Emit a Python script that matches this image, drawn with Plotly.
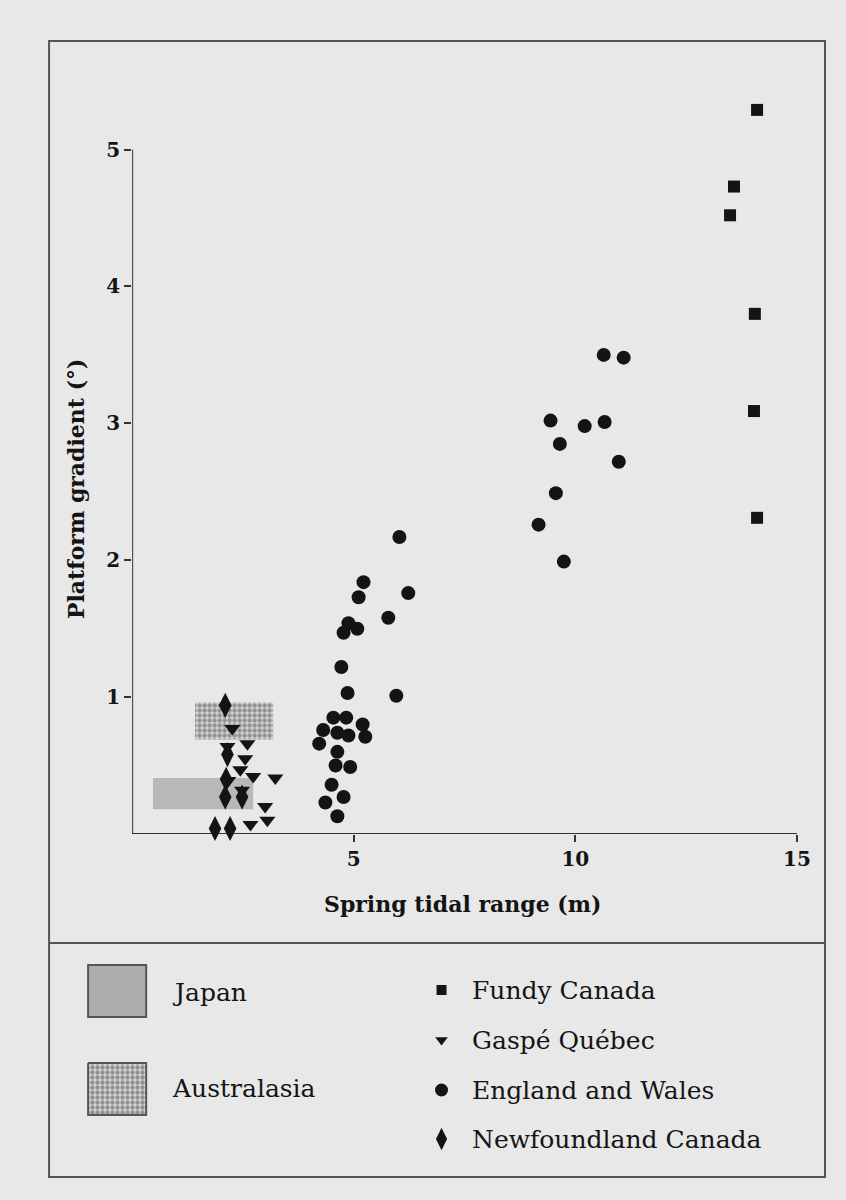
import plotly.graph_objects as go

# ---- data -------------------------------------------------------------
fundy_x = [14.10, 13.58, 13.49, 14.05, 14.03, 14.10]
fundy_y = [5.29, 4.73, 4.52, 3.80, 3.09, 2.31]

gaspe_x = [2.26, 2.60, 2.15, 2.55, 2.44, 2.73, 3.23, 2.17, 2.48, 3.00, 3.05, 2.67]
gaspe_y = [0.77, 0.66, 0.64, 0.55, 0.47, 0.42, 0.41, 0.39, 0.32, 0.20, 0.10, 0.07]

england_x = [10.64, 11.09, 9.44, 10.21, 10.66, 9.65, 10.98, 9.56, 9.17, 9.74,
             6.03, 5.22, 5.11, 6.23, 5.78, 4.88, 5.08, 4.77, 4.72, 4.86, 5.96,
             4.54, 4.83, 5.20, 4.31, 4.63, 4.88, 5.26, 4.22, 4.63, 4.59, 4.92,
             4.50, 4.77, 4.36, 4.63]
england_y = [3.50, 3.48, 3.02, 2.98, 3.01, 2.85, 2.72, 2.49, 2.26, 1.99,
             2.17, 1.84, 1.73, 1.76, 1.58, 1.54, 1.50, 1.47, 1.22, 1.03, 1.01,
             0.85, 0.85, 0.80, 0.76, 0.74, 0.72, 0.71, 0.66, 0.60, 0.50, 0.49,
             0.36, 0.27, 0.23, 0.13]

newfoundland_x = [2.10, 2.15, 2.12, 2.10, 2.48, 1.87, 2.21]
newfoundland_y = [0.94, 0.58, 0.40, 0.27, 0.27, 0.04, 0.04]

# ranges reported for Japan and Australasia (tidal range, gradient)
japan_range_x = [0.47, 2.73]
japan_range_y = [0.18, 0.41]
australasia_range_x = [1.42, 3.18]
australasia_range_y = [0.69, 0.96]

x_ticks = [5, 10, 15]
y_ticks = [1, 2, 3, 4, 5]

# ---- styling ------------------------------------------------------------
W, H = 846, 1200
VIEW_W = 831          # horizontal extent used for page-unit positioning
BG = "#e8e8e8"
INK = "#141414"
FRAME = "#555555"
SERIF = "DejaVu Serif"
JAPAN_FILL = "#b8b8b8"
AUS_PATTERN = dict(shape=".", fgcolor="#4e4e4e", bgcolor="#d6d6d6", size=5, solidity=0.6)

# page-unit layout of the plotting area
PX_L, PX_R, PX_T, PX_B = 132, 796, 88, 834


def box(xr, yr):
    return [xr[0], xr[1], xr[1], xr[0], xr[0]], [yr[0], yr[0], yr[1], yr[1], yr[0]]


fig = go.Figure()

jx, jy = box(japan_range_x, japan_range_y)
fig.add_trace(go.Scatter(x=jx, y=jy, mode="lines", fill="toself", fillcolor=JAPAN_FILL,
                         line=dict(width=0), hoverinfo="skip", name="Japan"))
ax_, ay_ = box(australasia_range_x, australasia_range_y)
fig.add_trace(go.Scatter(x=ax_, y=ay_, mode="lines", fill="toself", fillpattern=AUS_PATTERN,
                         fillcolor="#d6d6d6", line=dict(width=0), hoverinfo="skip",
                         name="Australasia"))

marker_common = dict(color=INK, line=dict(width=0))
fig.add_trace(go.Scatter(x=fundy_x, y=fundy_y, mode="markers", name="Fundy Canada",
                         marker=dict(symbol="square", size=12, **marker_common), cliponaxis=False))
fig.add_trace(go.Scatter(x=gaspe_x, y=gaspe_y, mode="markers", name="Gaspé Québec",
                         marker=dict(symbol="triangle-down", size=14, **marker_common), cliponaxis=False))
fig.add_trace(go.Scatter(x=england_x, y=england_y, mode="markers", name="England and Wales",
                         marker=dict(symbol="circle", size=14, **marker_common), cliponaxis=False))
fig.add_trace(go.Scatter(x=newfoundland_x, y=newfoundland_y, mode="markers", name="Newfoundland Canada",
                         marker=dict(symbol="diamond-tall", size=18, **marker_common), cliponaxis=False))

# ---- key panel (drawn on a page-sized overlay in page units) ---------------
KEY_MARK_X = 441
key_rows = [
    ("Fundy Canada", "square", 10, 990),
    ("Gaspé Québec", "triangle-down", 11, 1040),
    ("England and Wales", "circle", 13, 1090),
    ("Newfoundland Canada", "diamond-tall", 16, 1139),
]
for label, sym, sz, py in key_rows:
    fig.add_trace(go.Scatter(x=[KEY_MARK_X], y=[py], xaxis="x2", yaxis="y2", mode="markers",
                             marker=dict(symbol=sym, size=sz, color=INK), hoverinfo="skip",
                             showlegend=False))

sx, sy = box([88, 146], [1063, 1115])
fig.add_trace(go.Scatter(x=sx, y=sy, xaxis="x2", yaxis="y2", mode="lines", fill="toself",
                         fillpattern=AUS_PATTERN, fillcolor="#d6d6d6",
                         line=dict(color=FRAME, width=2), hoverinfo="skip", showlegend=False))

shapes = [
    # outer frame and divider
    dict(type="rect", xref="x2", yref="y2", x0=49, x1=824, y0=41, y1=1177,
         line=dict(color=FRAME, width=2)),
    dict(type="line", xref="x2", yref="y2", x0=49, x1=824, y0=943, y1=943,
         line=dict(color=FRAME, width=2)),
    # Japan key swatch
    dict(type="rect", xref="x2", yref="y2", x0=88, x1=146, y0=965, y1=1017,
         fillcolor="#adadad", line=dict(color=FRAME, width=2)),
    # axis lines
    dict(type="line", xref="x", yref="y", x0=0, x1=15, y0=0, y1=0, layer="below",
         line=dict(color="#333333", width=2)),
    dict(type="line", xref="x", yref="y", x0=0, x1=0, y0=0, y1=5, layer="below",
         line=dict(color="#333333", width=2)),
]

text_font = dict(family=SERIF, size=25, color=INK)
annotations = [
    dict(text="Spring tidal range (m)", x=462, y=904, xref="x2", yref="y2", showarrow=False,
         xanchor="center", yanchor="middle",
         font=dict(family=SERIF, size=22, color=INK, weight="bold")),
    dict(text="Platform gradient (°)", x=76, y=489, xref="x2", yref="y2", showarrow=False,
         textangle=-90, xanchor="center", yanchor="middle",
         font=dict(family=SERIF, size=22, color=INK, weight="bold")),
    dict(text="Japan", x=170, y=992, xref="x2", yref="y2", showarrow=False,
         xanchor="left", yanchor="middle", font=text_font),
    dict(text="Australasia", x=170, y=1088, xref="x2", yref="y2", showarrow=False,
         xanchor="left", yanchor="middle", font=text_font),
]
for label, sym, sz, py in key_rows:
    annotations.append(dict(text=label, x=469, y=py, xref="x2", yref="y2", showarrow=False,
                            xanchor="left", yanchor="middle", font=text_font))

tick_font = dict(family=SERIF, size=20, color=INK, weight="bold")
fig.update_layout(
    width=W, height=H, autosize=False,
    margin=dict(l=0, r=0, t=0, b=0),
    paper_bgcolor=BG, plot_bgcolor="rgba(0,0,0,0)",
    showlegend=False,
    xaxis=dict(domain=[PX_L / VIEW_W, PX_R / VIEW_W], range=[0, 15], tickvals=x_ticks,
               ticks="outside", ticklen=7, tickwidth=2, tickcolor="#333333",
               showline=False, showgrid=False, zeroline=False, tickfont=tick_font,
               anchor="y", fixedrange=True),
    yaxis=dict(domain=[(H - PX_B) / H, (H - PX_T) / H], range=[0, 5.45], tickvals=y_ticks,
               ticks="outside", ticklen=7, tickwidth=2, tickcolor="#333333",
               showline=False, showgrid=False, zeroline=False, tickfont=tick_font,
               anchor="x", fixedrange=True),
    xaxis2=dict(domain=[0, 1], range=[0, VIEW_W], visible=False, anchor="y2", fixedrange=True),
    yaxis2=dict(domain=[0, 1], range=[H, 0], visible=False, anchor="x2", fixedrange=True),
    shapes=shapes,
    annotations=annotations,
)

fig.write_html(
    "out.html",
    config={"responsive": False, "displayModeBar": False},
    post_script="document.body.style.margin='0';document.body.style.overflow='hidden';",
)
